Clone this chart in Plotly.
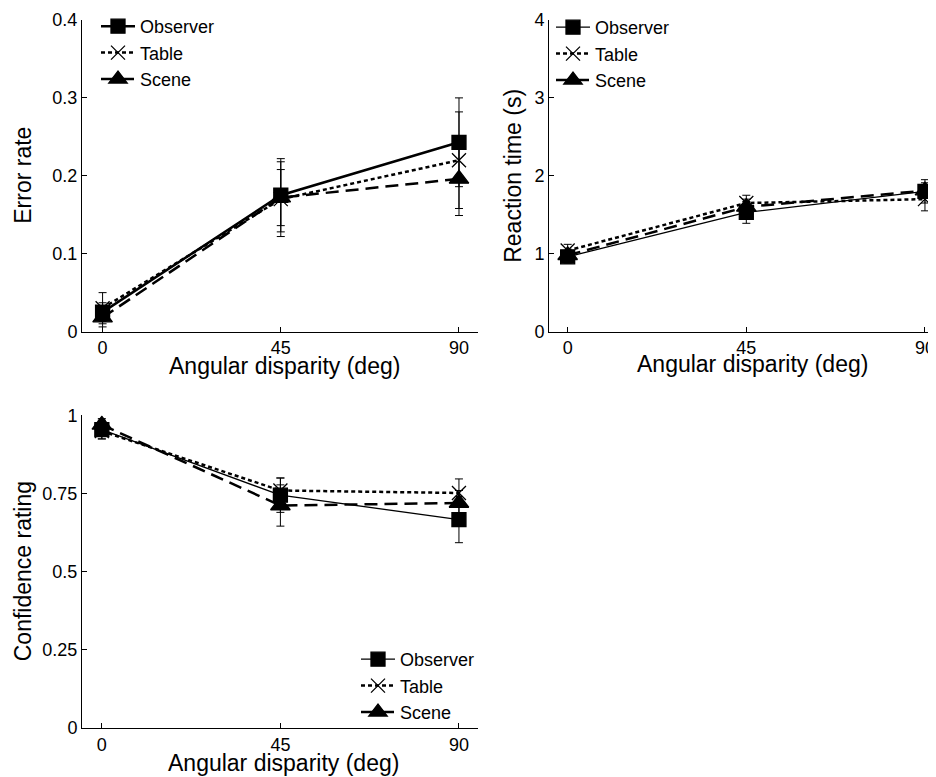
import plotly.graph_objects as go

angles = [0, 45, 90]
series = ["Observer", "Table", "Scene"]

# Error rate
err_obs = [0.025, 0.175, 0.243]
err_tab = [0.030, 0.170, 0.220]
err_scn = [0.018, 0.172, 0.196]
err_obs_se = [0.012, 0.047, 0.057]
err_tab_se = [0.020, 0.048, 0.062]
err_scn_se = [0.012, 0.036, 0.047]

# Reaction time (s)
rt_obs = [0.96, 1.53, 1.80]
rt_tab = [1.04, 1.65, 1.70]
rt_scn = [0.98, 1.60, 1.81]
rt_obs_se = [0.08, 0.14, 0.15]
rt_tab_se = [0.08, 0.10, 0.15]
rt_scn_se = [0.06, 0.10, 0.10]

# Confidence rating
cf_obs = [0.955, 0.745, 0.667]
cf_tab = [0.950, 0.760, 0.752]
cf_scn = [0.970, 0.712, 0.720]
cf_obs_se = [0.030, 0.055, 0.074]
cf_tab_se = [0.025, 0.040, 0.045]
cf_scn_se = [0.020, 0.066, 0.040]

y_ticks_err = [0, 0.1, 0.2, 0.3, 0.4]
y_ticklabels_err = ["0", "0.1", "0.2", "0.3", "0.4"]
y_ticks_rt = [0, 1, 2, 3, 4]
y_ticks_cf = [0, 0.25, 0.5, 0.75, 1]
y_ticklabels_cf = ["0", "0.25", "0.5", "0.75", "1"]

x_title = "Angular disparity (deg)"
y_titles = ["Error rate", "Reaction time (s)", "Confidence rating"]

# page has an 8px body margin; the figure is sized so it ends at the window edge
OFF = 8
W, H = 936 - OFF, 777 - OFF
FONT = "Liberation Sans, Arial, Helvetica, sans-serif"

def fx(px):  # page x pixel -> paper fraction
    return (px - OFF) / W

def fy(py):  # page y pixel -> paper fraction
    return 1 - (py - OFF) / H

styles = {
    "Observer": dict(symbol="square", size=14, dash="solid"),
    "Table": dict(symbol="x-thin", size=14, dash="4px,3px"),
    "Scene": dict(symbol="triangle-up", size=17, dash="13px,7px"),
}

fig = go.Figure()

def add_panel(vals, ses, xa, ya, legend, widths):
    for name, v, se, w in zip(series, vals, ses, widths):
        st = styles[name]
        marker = dict(symbol=st["symbol"], size=st["size"], color="black",
                      line=dict(color="black", width=1.3))
        fig.add_trace(go.Scatter(
            x=angles, y=v, name=name, mode="lines+markers",
            line=dict(color="black", width=w, dash=st["dash"]),
            marker=marker,
            error_y=dict(type="data", array=se, visible=True, color="black",
                         thickness=1, width=4),
            xaxis=xa, yaxis=ya, legend=legend, showlegend=True,
        ))

add_panel([err_obs, err_tab, err_scn], [err_obs_se, err_tab_se, err_scn_se],
          "x", "y", "legend", [2.5, 2.5, 2.5])
add_panel([rt_obs, rt_tab, rt_scn], [rt_obs_se, rt_tab_se, rt_scn_se],
          "x2", "y2", "legend2", [1.3, 2.5, 2.5])
add_panel([cf_obs, cf_tab, cf_scn], [cf_obs_se, cf_tab_se, cf_scn_se],
          "x3", "y3", "legend3", [1.3, 2.5, 2.5])

axis_common = dict(showline=True, linecolor="black", linewidth=1, ticks="inside",
                   ticklen=5, tickcolor="black", showgrid=False, zeroline=False,
                   automargin=False,
                   tickfont=dict(family=FONT, size=18, color="black"))

legend_common = dict(font=dict(family=FONT, size=18, color="black"), bgcolor="rgba(0,0,0,0)",
                     borderwidth=0, xanchor="left", yanchor="top", tracegroupgap=0,
                     itemwidth=34)

title_font = dict(family=FONT, size=23, color="black")
annotations = []
for (cx, cy) in [(284, 365), (752, 363), (283, 763)]:
    annotations.append(dict(text=x_title, x=fx(cx), y=fy(cy), xref="paper", yref="paper",
                            xanchor="center", yanchor="middle", showarrow=False,
                            font=title_font))
for t, (cx, cy) in zip(y_titles, [(23, 175), (513, 175), (23, 571)]):
    annotations.append(dict(text=t, x=fx(cx), y=fy(cy), xref="paper", yref="paper",
                            xanchor="center", yanchor="middle", showarrow=False,
                            textangle=-90, font=title_font))

fig.update_layout(
    width=W, height=H, margin=dict(l=0, r=0, t=0, b=0),
    paper_bgcolor="white", plot_bgcolor="white",
    xaxis=dict(domain=[fx(82), fx(478)], range=[-5.2, 94.8], tickvals=angles,
               anchor="y", **axis_common),
    yaxis=dict(domain=[fy(331), fy(19)], range=[0, 0.4], tickvals=y_ticks_err,
               ticktext=y_ticklabels_err, anchor="x", **axis_common),
    xaxis2=dict(domain=[fx(549), fx(936)], range=[-4.7, 92.78], tickvals=angles,
                anchor="y2", **axis_common),
    yaxis2=dict(domain=[fy(331), fy(19)], range=[0, 4], tickvals=y_ticks_rt,
                anchor="x2", **axis_common),
    xaxis3=dict(domain=[fx(82), fx(478)], range=[-5.0, 94.8], tickvals=angles,
                anchor="y3", **axis_common),
    yaxis3=dict(domain=[fy(728), fy(415)], range=[0, 1], tickvals=y_ticks_cf,
                ticktext=y_ticklabels_cf, anchor="x3", **axis_common),
    legend=dict(x=fx(96), y=fy(7), **legend_common),
    legend2=dict(x=fx(551), y=fy(9), **legend_common),
    legend3=dict(x=fx(356), y=fy(641), **legend_common),
    annotations=annotations,
)

fig.write_html("out.html")
